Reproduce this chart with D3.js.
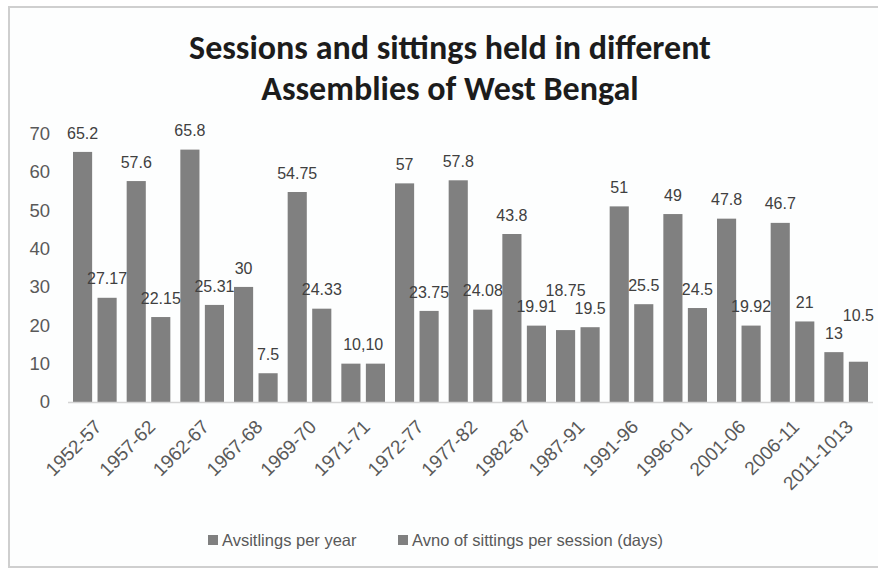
<!DOCTYPE html>
<html>
<head>
<meta charset="utf-8">
<script src="https://cdn.jsdelivr.net/npm/d3@7"></script>
<style>
  html, body { margin: 0; padding: 0; background: #ffffff; }
  svg { display: block; }
</style>
</head>
<body>
<svg id="chart" width="878" height="568"></svg>
<script>
// Assembly terms
const periods = ["1952-57","1957-62","1962-67","1967-68","1969-70","1971-71","1972-77",
                 "1977-82","1982-87","1987-91","1991-96","1996-01","2001-06","2006-11","2011-1013"];
// Average sittings per year
const sittingsPerYear = [65.2, 57.6, 65.8, 30, 54.75, 10, 57, 57.8, 43.8, 18.75, 51, 49, 47.8, 46.7, 13];
// Average number of sittings per session (days)
const sittingsPerSession = [27.17, 22.15, 25.31, 7.5, 24.33, 10, 23.75, 24.08, 19.91, 19.5, 25.5, 24.5, 19.92, 21, 10.5];
// Terms whose two equal values share one combined label
const sharedLabelPeriods = ["1971-71"];
const seriesNames = ["Avsitlings per year", "Avno of sittings per session (days)"];
const yTicks = [0, 10, 20, 30, 40, 50, 60, 70];
const titleLines = ["Sessions and sittings held in different", "Assemblies of West Bengal"];

const svg = d3.select("#chart");
const W = 878, H = 568;
const plot = { left: 68, right: 873, top: 133.5, bottom: 402 };
const barColor = "#808080";
const textFont = "'Liberation Sans', Arial, sans-serif";

// chart frame
svg.append("rect").attr("x", 0).attr("y", 0).attr("width", W).attr("height", H).attr("fill", "#ffffff");
svg.append("rect").attr("x", 9).attr("y", 7).attr("width", W + 10).attr("height", 560)
  .attr("fill", "#fdfefe").attr("stroke", "#cfcfcf").attr("stroke-width", 2);

// title, fitted to its line width
const title = svg.append("g").attr("font-family", "Carlito, Lato, 'Open Sans', sans-serif")
  .attr("font-weight", "bold").attr("fill", "#1c1c1c").attr("text-anchor", "middle");
const t1 = title.append("text").attr("x", 450).attr("y", 58.5).attr("font-size", 30).text(titleLines[0]);
const fs = 30 * 522 / t1.node().getComputedTextLength();
t1.attr("font-size", fs);
title.append("text").attr("x", 450).attr("y", 99.5).attr("font-size", fs).text(titleLines[1]);

const data = periods.map((p, i) => ({ period: p, values: [sittingsPerYear[i], sittingsPerSession[i]] }));

const x0 = d3.scaleBand().domain(periods).range([plot.left, plot.right]).padding(0);
const x1 = d3.scaleBand().domain([0, 1]).range([5, x0.bandwidth() - 5]).paddingInner(0.22);
const y = d3.scaleLinear().domain([0, 70]).range([plot.bottom, plot.top]);

// y axis labels
const yAxis = svg.append("g").attr("transform", `translate(50,0)`)
  .call(d3.axisLeft(y).tickValues(yTicks).tickSize(0).tickPadding(0).tickFormat(d3.format("d")));
yAxis.select(".domain").remove();
yAxis.selectAll("text").attr("font-family", textFont).attr("font-size", 18.5).attr("fill", "#595959");

// bars
const groups = svg.append("g").selectAll("g").data(data).join("g")
  .attr("transform", d => `translate(${x0(d.period)},0)`);
groups.selectAll("rect").data(d => d.values.map((v, k) => ({ k, v }))).join("rect")
  .attr("x", d => x1(d.k)).attr("width", x1.bandwidth())
  .attr("y", d => y(d.v)).attr("height", d => y(0) - y(d.v))
  .attr("fill", barColor);

// baseline
svg.append("line").attr("x1", plot.left).attr("x2", plot.right)
  .attr("y1", y(0) + 0.5).attr("y2", y(0) + 0.5).attr("stroke", "#d4d4d4").attr("stroke-width", 1.5);

// value labels, centred above each bar; a label that would collide with its
// neighbour in the same group is lifted above it
const labels = svg.append("g").attr("font-family", textFont).attr("font-size", 16)
  .attr("fill", "#404040").attr("text-anchor", "middle");
const overlaps = (a, b) => a.x < b.x + b.width && b.x < a.x + a.width && a.y < b.y + b.height && b.y < a.y + a.height;
data.forEach(d => {
  const gx = x0(d.period);
  if (sharedLabelPeriods.includes(d.period)) {
    labels.append("text").attr("x", gx + x0.bandwidth() / 2)
      .attr("y", y(d3.max(d.values)) - 19).attr("dy", "0.35em")
      .text(d.values.join(","));
    return;
  }
  const placed = d.values.map((v, k) => labels.append("text")
    .attr("x", gx + x1(k) + x1.bandwidth() / 2)
    .attr("y", y(v) - 19).attr("dy", "0.35em").text(v));
  const [a, b] = placed;
  if (overlaps(a.node().getBBox(), b.node().getBBox())) {
    const lower = d.values[0] <= d.values[1] ? a : b;
    const other = lower === a ? b : a;
    lower.attr("y", +other.attr("y") - 18);
  }
});

// category labels, rotated
const xAxis = svg.append("g").attr("font-family", textFont).attr("font-size", 19).attr("fill", "#595959");
periods.forEach(p => {
  const cx = x0(p) + x0.bandwidth() / 2 + 8;
  xAxis.append("text").attr("text-anchor", "end")
    .attr("transform", `translate(${cx},428) rotate(-45)`).text(p);
});

// legend
const legendX = [208, 398];
const legend = svg.append("g").attr("font-family", textFont).attr("font-size", 16.5).attr("fill", "#595959");
seriesNames.forEach((name, i) => {
  legend.append("rect").attr("x", legendX[i]).attr("y", 535).attr("width", 10).attr("height", 10).attr("fill", barColor);
  legend.append("text").attr("x", legendX[i] + 14).attr("y", 540).attr("dy", "0.35em").text(name);
});
</script>
</body>
</html>
